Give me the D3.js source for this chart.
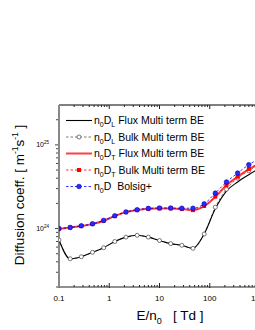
<!DOCTYPE html>
<html>
<head>
<meta charset="utf-8">
<script src="https://cdn.jsdelivr.net/npm/d3@7"></script>
<style>
body { margin: 0; background: #fff; }
svg { display: block; font-family: Arial, "Liberation Sans", sans-serif; }
</style>
</head>
<body>
<div id="chart"></div>
<script>
// E/n0 in Td
var En = [0.1, 0.167, 0.278, 0.464, 0.774, 1.29, 2.15, 3.59, 5.99, 10, 16.7, 27.8, 46.4, 77.4, 129, 215, 359, 599, 1000];

var dlFlux = [7.3e23, 4.35e23, 4.6e23, 5.2e23, 5.9e23, 7.0e23, 7.9e23, 8.3e23, 7.9e23, 7.2e23, 6.6e23, 6.3e23, 5.8e23, 8.6e23, 1.72e24, 2.8e24, 3.6e24, 4.4e24, 5.3e24];
var dlBulk = [7.3e23, 4.35e23, 4.6e23, 5.2e23, 5.9e23, 7.0e23, 7.9e23, 8.3e23, 7.9e23, 7.2e23, 6.6e23, 6.3e23, 5.8e23, 8.6e23, 1.8e24, 2.95e24, 4.0e24, 4.9e24, 5.9e24];
var dtFlux = [0.99e24, 1.03e24, 1.07e24, 1.13e24, 1.24e24, 1.41e24, 1.57e24, 1.66e24, 1.72e24, 1.74e24, 1.74e24, 1.71e24, 1.66e24, 1.85e24, 2.38e24, 3.3e24, 4.15e24, 5.1e24, 6.0e24];
var dtBulk = [0.99e24, 1.03e24, 1.07e24, 1.13e24, 1.24e24, 1.41e24, 1.57e24, 1.66e24, 1.72e24, 1.74e24, 1.74e24, 1.71e24, 1.66e24, 1.86e24, 2.41e24, 3.32e24, 4.18e24, 5.16e24, 6.1e24];
var bolsig = [1.0e24, 1.03e24, 1.08e24, 1.14e24, 1.25e24, 1.42e24, 1.58e24, 1.68e24, 1.74e24, 1.76e24, 1.76e24, 1.75e24, 1.75e24, 1.97e24, 2.65e24, 3.6e24, 4.6e24, 5.8e24, 6.9e24];

var xTicks = [0.1, 1, 10, 100, 1000];
var xTickLabels = ["0.1", "1", "10", "100", "1000"];
var yTicks = [1e24, 1e25];
var yTickExp = ["24", "25"];

var legendNames = [
  ["L", "Flux Multi term BE"],
  ["L", "Bulk Multi term BE"],
  ["T", "Flux Multi term BE"],
  ["T", "Bulk Multi term BE"],
  ["", "Bolsig+"]
];

var W = 255, H = 330;
var pLeft = 59, pRight = 260, pTop = 105, pBottom = 287;

var x = d3.scaleLog().domain([0.1, 1000]).range([pLeft, pRight]);
var y = d3.scaleLog().domain([2e23, 3e25]).range([pBottom, pTop]);

var svg = d3.select('#chart').append('svg')
  .attr('width', W)
  .attr('height', H);

svg.append('clipPath').attr('id', 'clip')
  .append('rect').attr('x', pLeft).attr('y', pTop).attr('width', pRight - pLeft).attr('height', pBottom - pTop);

// minor ticks
var xMinor = [];
for (var d = -1; d < 3; d++) {
  for (var m = 2; m < 10; m++) xMinor.push(m * Math.pow(10, d));
}
var yMinor = [];
for (var d = 23; d < 26; d++) {
  for (var m = 2; m < 10; m++) {
    var v = m * Math.pow(10, d);
    if (v >= 2e23 && v <= 3e25) yMinor.push(v);
  }
}

// bottom axis, ticks pointing in
var gx = svg.append('g');
gx.append('line').attr('x1', pLeft).attr('x2', pRight).attr('y1', pBottom).attr('y2', pBottom)
  .attr('stroke', '#222').attr('stroke-width', 1);
gx.selectAll('.mn').data(xMinor).enter().append('line')
  .attr('x1', d => x(d)).attr('x2', d => x(d))
  .attr('y1', pBottom).attr('y2', pBottom - 2)
  .attr('stroke', '#222');
gx.selectAll('.mj').data(xTicks).enter().append('line')
  .attr('x1', d => x(d)).attr('x2', d => x(d))
  .attr('y1', pBottom + 1).attr('y2', pBottom - 4)
  .attr('stroke', '#222');
gx.selectAll('text').data(xTicks).enter().append('text')
  .attr('x', d => x(d)).attr('y', 300.5)
  .attr('text-anchor', 'middle')
  .attr('font-size', 8)
  .text((d, i) => xTickLabels[i]);

// top axis
var gt = svg.append('g');
gt.append('line').attr('x1', pLeft).attr('x2', pRight).attr('y1', pTop).attr('y2', pTop)
  .attr('stroke', '#000').attr('stroke-width', 1);
gt.selectAll('.mn').data(xMinor).enter().append('line')
  .attr('x1', d => x(d)).attr('x2', d => x(d))
  .attr('y1', pTop).attr('y2', pTop + 2)
  .attr('stroke', '#222');
gt.selectAll('.mj').data(xTicks).enter().append('line')
  .attr('x1', d => x(d)).attr('x2', d => x(d))
  .attr('y1', pTop).attr('y2', pTop + 4)
  .attr('stroke', '#222');

// left axis, ticks pointing out
var gy = svg.append('g');
gy.selectAll('.mn').data(yMinor).enter().append('line')
  .attr('x1', pLeft - 3).attr('x2', pLeft)
  .attr('y1', d => y(d)).attr('y2', d => y(d))
  .attr('stroke', '#444');
gy.selectAll('.mj').data(yTicks).enter().append('line')
  .attr('x1', pLeft - 4).attr('x2', pLeft)
  .attr('y1', d => y(d)).attr('y2', d => y(d))
  .attr('stroke', '#444');
gy.append('line').attr('x1', pLeft).attr('x2', pLeft).attr('y1', pTop).attr('y2', pBottom + 0.5)
  .attr('stroke', '#888').attr('stroke-width', 2);
var yl = gy.selectAll('text').data(yTicks).enter().append('text')
  .attr('x', 49).attr('y', d => y(d) + 2.5)
  .attr('text-anchor', 'end')
  .attr('font-size', 7);
yl.append('tspan').text('10');
yl.append('tspan').attr('font-size', 4.5).attr('dy', -3.5).text((d, i) => yTickExp[i]);

// axis titles
var yt = svg.append('text')
  .attr('transform', 'translate(24,195) rotate(-90)')
  .attr('text-anchor', 'middle')
  .attr('font-size', 13.5);
yt.append('tspan').text('Diffusion coeff. [ m');
yt.append('tspan').attr('font-size', 8.5).attr('dy', -6).text('-1');
yt.append('tspan').attr('dy', 6).text('s');
yt.append('tspan').attr('font-size', 8.5).attr('dy', -6).text('-1');
yt.append('tspan').attr('dy', 6).text(' ]');

var xt = svg.append('text')
  .attr('x', 170).attr('y', 320)
  .attr('text-anchor', 'middle')
  .attr('font-size', 13.5)
  .attr('xml:space', 'preserve');
xt.append('tspan').text('E/n');
xt.append('tspan').attr('font-size', 9).attr('dy', 4).text('0');
xt.append('tspan').attr('dy', -4).text('   [ Td ]');

// data
var plot = svg.append('g').attr('clip-path', 'url(#clip)');

function series(vals) {
  return En.map((e, i) => ({ x: e, y: vals[i] }));
}
var line = d3.line().x(d => x(d.x)).y(d => y(d.y)).curve(d3.curveMonotoneX);

plot.append('path').datum(series(dlBulk)).attr('d', line)
  .attr('fill', 'none').attr('stroke', '#555').attr('stroke-width', 0.8).attr('stroke-dasharray', '2.5,2');
plot.append('path').datum(series(dlFlux)).attr('d', line)
  .attr('fill', 'none').attr('stroke', '#000').attr('stroke-width', 1.1);
plot.selectAll('.dlb').data(series(dlBulk)).enter().append('circle')
  .attr('cx', d => x(d.x)).attr('cy', d => y(d.y)).attr('r', 2)
  .attr('fill', '#fff').attr('stroke', '#444').attr('stroke-width', 0.7);

plot.append('path').datum(series(dtFlux)).attr('d', line)
  .attr('fill', 'none').attr('stroke', '#ff4040').attr('stroke-width', 2);
plot.append('path').datum(series(dtBulk)).attr('d', line)
  .attr('fill', 'none').attr('stroke', '#ff0000').attr('stroke-width', 0.8).attr('stroke-dasharray', '2.5,2');
plot.selectAll('.dtb').data(series(dtBulk)).enter().append('rect')
  .attr('x', d => x(d.x) - 2).attr('y', d => y(d.y) - 2)
  .attr('width', 4).attr('height', 4)
  .attr('fill', '#ff0000');

plot.append('path').datum(series(bolsig)).attr('d', line)
  .attr('fill', 'none').attr('stroke', '#0000ff').attr('stroke-width', 0.8).attr('stroke-dasharray', '2.5,2');
plot.selectAll('.bs').data(series(bolsig)).enter().append('circle')
  .attr('cx', d => x(d.x)).attr('cy', d => y(d.y)).attr('r', 2.3)
  .attr('fill', '#2a2aff').attr('stroke', '#0000c0').attr('stroke-width', 0.6);

// legend
var legY = [120.5, 137, 153.5, 170, 186.5];
var leg = svg.append('g');
legendNames.forEach(function (nm, i) {
  var yy = legY[i];
  var g = leg.append('g');
  if (i == 0) {
    g.append('line').attr('x1', 66).attr('x2', 92).attr('y1', yy).attr('y2', yy).attr('stroke', '#000').attr('stroke-width', 1.1);
  } else if (i == 1) {
    g.append('line').attr('x1', 66).attr('x2', 92).attr('y1', yy).attr('y2', yy).attr('stroke', '#555').attr('stroke-width', 0.8).attr('stroke-dasharray', '2.5,2');
    g.append('circle').attr('cx', 79).attr('cy', yy).attr('r', 2).attr('fill', '#fff').attr('stroke', '#444').attr('stroke-width', 0.7);
  } else if (i == 2) {
    g.append('line').attr('x1', 66).attr('x2', 92).attr('y1', yy).attr('y2', yy).attr('stroke', '#ff4040').attr('stroke-width', 2);
  } else if (i == 3) {
    g.append('line').attr('x1', 66).attr('x2', 92).attr('y1', yy).attr('y2', yy).attr('stroke', '#ff0000').attr('stroke-width', 0.8).attr('stroke-dasharray', '2.5,2');
    g.append('rect').attr('x', 77).attr('y', yy - 2).attr('width', 4).attr('height', 4).attr('fill', '#ff0000');
  } else {
    g.append('line').attr('x1', 66).attr('x2', 92).attr('y1', yy).attr('y2', yy).attr('stroke', '#0000ff').attr('stroke-width', 0.8).attr('stroke-dasharray', '2.5,2');
    g.append('circle').attr('cx', 79).attr('cy', yy).attr('r', 2.3).attr('fill', '#2a2aff').attr('stroke', '#0000c0').attr('stroke-width', 0.6);
  }
  var t = g.append('text').attr('x', 94).attr('y', yy + 3.5).attr('font-size', 10.5).attr('xml:space', 'preserve');
  t.append('tspan').text('n');
  t.append('tspan').attr('font-size', 7).attr('dy', 3).text('0');
  t.append('tspan').attr('dy', -3).text('D');
  if (nm[0] != '') {
    t.append('tspan').attr('font-size', 7).attr('dy', 3).text(nm[0]);
    t.append('tspan').attr('dy', -3).text(' ' + nm[1]);
  } else {
    t.append('tspan').text('  ' + nm[1]);
  }
});
</script>
</body>
</html>
